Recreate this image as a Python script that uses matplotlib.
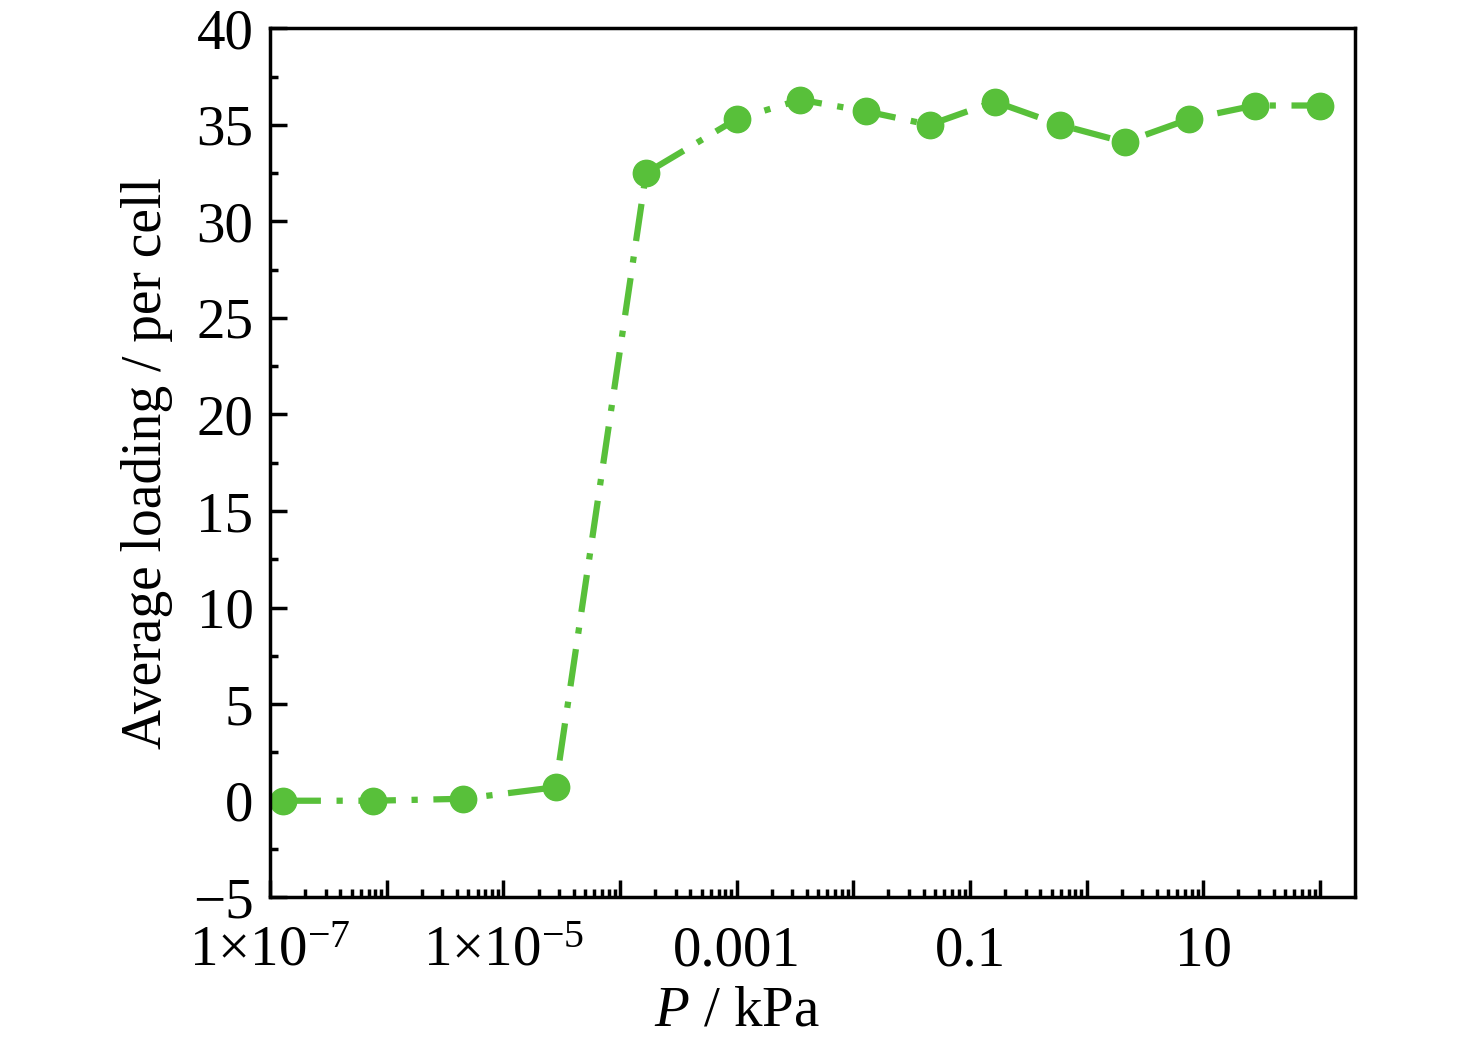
import numpy as np
import matplotlib
matplotlib.use("Agg")
import matplotlib.pyplot as plt
from matplotlib.ticker import FixedLocator, LogLocator, MultipleLocator, FuncFormatter, NullFormatter

plt.rcParams["font.family"] = ["Liberation Serif", "DejaVu Serif"]
plt.rcParams["mathtext.fontset"] = "custom"
plt.rcParams["mathtext.rm"] = "Liberation Serif"
plt.rcParams["mathtext.it"] = "Liberation Serif:italic"

# 压力 (kPa) 与平均吸附量
pressure = [1.3e-7, 7.6e-7, 4.5e-6, 2.8e-5, 1.67e-4, 1.0e-3, 3.5e-3,
            1.28e-2, 4.5e-2, 1.63e-1, 5.9e-1, 2.12, 7.6, 27.5, 100.0]
loading = [0.0, 0.0, 0.1, 0.7, 32.5, 35.3, 36.3,
           35.7, 35.0, 36.2, 35.0, 34.1, 35.3, 36.0, 36.0]

x_labels = {1e-7: r"$1{\times}10^{-7}$", 1e-5: r"$1{\times}10^{-5}$",
            1e-3: "0.001", 1e-1: "0.1", 1e1: "10"}


def fmt_x(v, pos):
    for k, s in x_labels.items():
        if abs(np.log10(v) - np.log10(k)) < 1e-6:
            return s
    return ""


fig = plt.figure(figsize=(14.76, 10.47), dpi=100)
ax = fig.add_axes([0.183, 0.143, 0.735, 0.830])

ax.plot(pressure, loading, color="#58c03a", linestyle="-.", linewidth=4.5,
        marker="o", markersize=19, dashes=(6, 2.5, 1, 2.5))

ax.set_xscale("log")
ax.set_xlim(1e-7, 10 ** 2.3)
ax.set_ylim(-5, 40)

ax.xaxis.set_major_locator(FixedLocator([10.0 ** k for k in range(-7, 3)]))
ax.xaxis.set_major_formatter(FuncFormatter(fmt_x))
ax.xaxis.set_minor_locator(LogLocator(base=10, subs=np.arange(2, 10), numticks=20))
ax.xaxis.set_minor_formatter(NullFormatter())

ax.yaxis.set_major_locator(MultipleLocator(5))
ax.yaxis.set_minor_locator(MultipleLocator(2.5))

ax.tick_params(which="both", direction="in", top=False, right=False,
               labelsize=41, width=2.5)
ax.tick_params(which="major", length=12)
ax.tick_params(axis="x", which="major", pad=20)
ax.tick_params(axis="y", which="major", pad=12)
ax.tick_params(which="minor", length=6)
for sp in ax.spines.values():
    sp.set_linewidth(2.5)

ax.set_xlabel(r"$\mathit{P}$ / kPa", fontsize=41, labelpad=6, x=0.43)
ax.set_ylabel("Average loading / per cell", fontsize=40, labelpad=14)

fig.savefig("out.png", dpi=100, facecolor="white")
